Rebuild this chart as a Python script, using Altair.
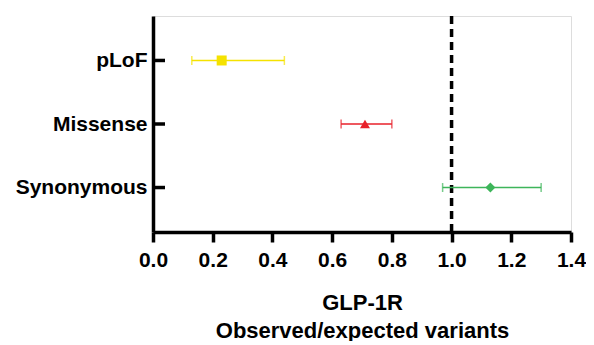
import altair as alt
import pandas as pd

categories = ["pLoF", "Missense", "Synonymous"]
estimates = [0.23, 0.71, 1.13]
lower = [0.13, 0.63, 0.97]
upper = [0.44, 0.80, 1.30]
colors = ["#F5E200", "#E8202A", "#3DB55A"]
shapes = ["square", "triangle-up", "diamond"]
x_ticks = [0.0, 0.2, 0.4, 0.6, 0.8, 1.0, 1.2, 1.4]
ref_value = [1.0]

df = pd.DataFrame({"cat": categories, "est": estimates, "lo": lower, "hi": upper})
ref = pd.DataFrame({"v": ref_value})

FONT = "Liberation Sans"

xscale = alt.Scale(domain=[0, 1.4], nice=False, zero=False)
yscale = alt.Scale(type="point", domain=categories, padding=0.7)
color = alt.Color("cat:N", scale=alt.Scale(domain=categories, range=colors), legend=None)
shape = alt.Shape("cat:N", scale=alt.Scale(domain=categories, range=shapes), legend=None)

y_enc = alt.Y(
    "cat:N",
    scale=yscale,
    sort=categories,
    title=None,
    axis=alt.Axis(
        ticks=False,
        labelPadding=6,
        labelFontSize=21,
        labelFontWeight="bold",
        labelColor="black",
        labelFont=FONT,
        domainColor="black",
        domainWidth=3.5,
        grid=False,
    ),
)

x_axis = alt.Axis(
    values=x_ticks,
    format=".1f",
    labelFlush=False,
    labelFontSize=21,
    labelFontWeight="bold",
    labelColor="black",
    labelFont=FONT,
    labelPadding=7,
    tickSize=10,
    tickWidth=3.5,
    tickColor="black",
    domainColor="black",
    domainWidth=3.5,
    grid=False,
    title=["GLP-1R", "Observed/expected variants"],
    titleFontSize=22,
    titleFontWeight="bold",
    titleFont=FONT,
    titleColor="black",
    titlePadding=22,
    titleLineHeight=28,
)

base = alt.Chart(df)

whisker = base.mark_rule(strokeWidth=1.5).encode(
    x=alt.X("lo:Q", scale=xscale, axis=x_axis),
    x2="hi:Q",
    y=y_enc,
    color=color,
)
cap_lo = base.mark_tick(orient="vertical", size=9, thickness=1.5).encode(
    x=alt.X("lo:Q", scale=xscale), y=alt.Y("cat:N", scale=yscale, sort=categories), color=color
)
cap_hi = base.mark_tick(orient="vertical", size=9, thickness=1.5).encode(
    x=alt.X("hi:Q", scale=xscale), y=alt.Y("cat:N", scale=yscale, sort=categories), color=color
)
points = base.mark_point(filled=True, size=100, opacity=1).encode(
    x=alt.X("est:Q", scale=xscale),
    y=alt.Y("cat:N", scale=yscale, sort=categories),
    color=color,
    shape=shape,
)
yticks = base.mark_rule(strokeWidth=3.5, color="black").encode(
    x=alt.value(0), x2=alt.value(12), y=alt.Y("cat:N", scale=yscale, sort=categories)
)
refline = alt.Chart(ref).mark_rule(strokeDash=[8, 5], strokeWidth=3.5, color="black").encode(
    x=alt.X("v:Q", scale=xscale)
)

chart = (
    alt.layer(refline, whisker, cap_lo, cap_hi, points, yticks)
    .properties(
        width=578,
        height=333,
        padding={"left": 7, "top": 6, "right": 0, "bottom": 0},
        autosize=alt.AutoSizeParams(type="fit", contains="padding"),
    )
    .configure_view(stroke=None)
    .configure(background="white")
)

chart.save("out.html", embed_options={"renderer": "svg", "actions": False})
